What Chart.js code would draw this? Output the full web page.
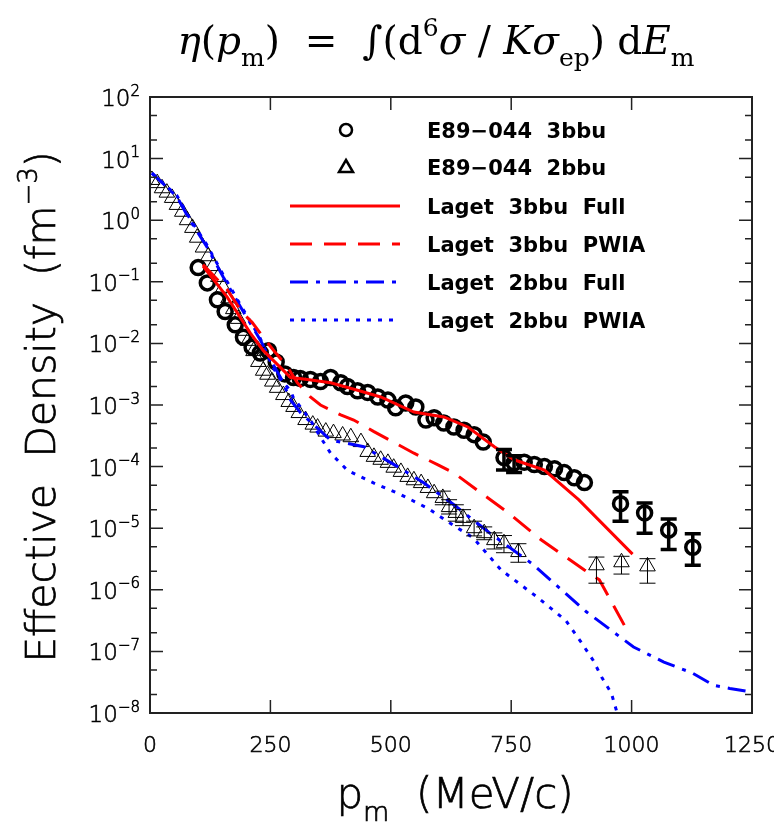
<!DOCTYPE html>
<html>
<head>
<meta charset="utf-8">
<script src="https://cdn.jsdelivr.net/npm/chart.js@4.4.0/dist/chart.umd.min.js"></script>
<style>
  html, body { margin: 0; padding: 0; background: #fff; }
  #wrap { width: 774px; height: 822px; position: relative; }
</style>
</head>
<body>
<div id="wrap"><canvas id="chart" width="774" height="822"></canvas></div>
<script>
// E89-044 data, 3bbu (circles) and 2bbu (triangles)
const circ_p = [100,119,140,156,177,194,212,229,246,262,280,298,312,333,354,375,396,410,431,452,473,494,510,531,552,573,590,610,631,652,673,692,735,756,777,798,819,840,860,881,902,977,1027,1077,1127];
const circ_v = [0.17,0.096,0.051,0.033,0.020,0.0126,0.0087,0.0070,0.0076,0.0050,0.0032,0.0028,0.0027,0.0026,0.0024,0.0028,0.0023,0.0020,0.0017,0.0016,0.00135,0.0012,0.0009,0.00108,0.00093,0.00057,0.00062,0.00051,0.00044,0.00039,0.00033,0.00025,0.00014,0.000115,0.000118,0.000108,0.0001,0.000092,0.00008,0.000066,0.000055,2.5e-5,1.77e-5,9.3e-6,4.9e-6];
const circ_err_p  = [735,756,977,1027,1077,1127];
const circ_err_lo = [8.8e-5,8.0e-5,1.3e-5,8.3e-6,4.5e-6,2.5e-6];
const circ_err_hi = [1.9e-4,1.5e-4,3.9e-5,2.57e-5,1.41e-5,8.1e-6];

const tri_p = [4,15,25,35,46,56,67,77,88,98,110,121,131,142,152,163,173,183,194,204,215,225,235,244,254,264,277,288,298,309,323,338,348,365,381,400,417,438,452,465,479,494,506,521,535,548,563,577,590,608,621,635,650,673,694,715,735,765,927,979,1033];
const tri_v = [4.5,4.0,3.3,2.8,2.3,1.77,1.37,1.0,0.75,0.52,0.36,0.26,0.18,0.12,0.08,0.054,0.036,0.025,0.016,0.011,0.0075,0.005,0.0036,0.0031,0.0024,0.0019,0.00145,0.00112,0.00093,0.00074,0.00057,0.00048,0.00043,0.00037,0.00035,0.00032,0.0003,0.00025,0.000173,0.000144,0.000129,0.000115,0.000096,0.000082,0.000068,0.00006,0.000054,0.000045,0.000037,0.000031,0.000022,0.0000177,0.0000147,0.00001,8.3e-6,6.4e-6,5.7e-6,4.1e-6,2.5e-6,2.8e-6,2.4e-6];
const tri_err_p  = [608,621,635,650,673,694,715,735,765,927,979,1033];
const tri_err_lo = [2.4e-5,1.7e-5,1.3e-5,1.1e-5,7.5e-6,6.5e-6,4.6e-6,4.0e-6,2.8e-6,1.28e-6,1.8e-6,1.28e-6];
const tri_err_hi = [4.0e-5,2.9e-5,2.4e-5,2.0e-5,1.3e-5,1.05e-5,8.4e-6,7.6e-6,5.6e-6,3.4e-6,3.5e-6,3.2e-6];

// Laget calculations
const laget3_full_p = [110,160,208,235,292,327,375,431,479,548,610,660,715,756,819,890,1002];
const laget3_full_v = [0.18,0.057,0.0148,0.0077,0.0028,0.0026,0.0023,0.00174,0.00135,0.00077,0.00064,0.00044,0.00021,0.000129,0.000088,0.000029,3.8e-6];
const laget3_pwia_p = [110,160,191,212,235,256,285,306,333,354,396,423,465,548,598,631,688,744,812,902,933,988];
const laget3_pwia_v = [0.19,0.075,0.032,0.022,0.0126,0.0078,0.0042,0.0023,0.00135,0.001,0.00069,0.00057,0.00037,0.000165,0.000107,0.000079,0.000037,0.0000177,6.5e-6,2.1e-6,1.45e-6,2.4e-7];
const laget2_full_p = [4,56,83,118,152,188,229,256,271,292,313,375,444,514,569,631,705,792,906,1004,1067,1125,1171,1204,1250];
const laget2_full_v = [5.8,2.4,1.0,0.37,0.12,0.039,0.0114,0.0045,0.0028,0.0012,0.00074,0.00027,0.00021,0.0001,0.000054,0.000024,8.4e-6,2.7e-6,4.4e-7,1.18e-7,6.7e-8,4.5e-8,2.8e-8,2.5e-8,2.2e-8];
const laget2_pwia_p = [4,56,83,118,152,188,229,256,271,292,298,333,354,375,410,465,521,577,631,671,729,804,863,896,920,938,958,970];
const laget2_pwia_v = [5.8,2.5,1.05,0.4,0.13,0.042,0.012,0.004,0.0026,0.0017,0.0013,0.00057,0.0003,0.000165,0.000087,0.000054,0.000035,0.000021,0.000011,7e-6,2.1e-6,7.6e-7,3.2e-7,1.38e-7,7.2e-8,3.8e-8,2.1e-8,1e-8];

// axis ticks
const x_ticks = [0,250,500,750,1000,1250];
const y_exps = [2,1,0,-1,-2,-3,-4,-5,-6,-7,-8];

const pts = (xs, ys) => xs.map((x, i) => ({x: x, y: ys[i]}));

const SANS = '"DejaVu Sans", sans-serif';
const SERIF = '"DejaVu Serif", serif';

// text with sub/superscripts, parts = [{t, it, s:'sub'|'sup'}]
function drawRich(ctx, parts, x, y, align, size, family, weight, outline) {
  const fontOf = p => (p.it ? 'italic ' : '') + (weight || 'normal') + ' ' + (p.s ? Math.round(size * 0.64) : size) + 'px ' + family;
  let w = 0;
  parts.forEach(p => { ctx.font = fontOf(p); p.w = ctx.measureText(p.t).width; w += p.w; });
  let cx = align === 'center' ? x - w / 2 : align === 'right' ? x - w : x;
  ctx.textAlign = 'left';
  ctx.textBaseline = 'alphabetic';
  ctx.strokeStyle = '#000';
  ctx.lineWidth = outline || 0;
  parts.forEach(p => {
    ctx.font = fontOf(p);
    const dy = p.s === 'sub' ? size * 0.3 : p.s === 'sup' ? -size * 0.45 : 0;
    ctx.fillText(p.t, cx, y + dy);
    if (outline) ctx.strokeText(p.t, cx, y + dy);
    cx += p.w;
  });
}

function errorBars(ctx, xs, ys, ps, los, his, width, cap) {
  ctx.save();
  ctx.strokeStyle = '#000';
  ctx.lineWidth = width;
  ps.forEach((p, i) => {
    const x = xs.getPixelForValue(p);
    const y1 = ys.getPixelForValue(los[i]);
    const y2 = ys.getPixelForValue(his[i]);
    ctx.beginPath();
    ctx.moveTo(x, y1); ctx.lineTo(x, y2);
    ctx.moveTo(x - cap, y1); ctx.lineTo(x + cap, y1);
    ctx.moveTo(x - cap, y2); ctx.lineTo(x + cap, y2);
    ctx.stroke();
  });
  ctx.restore();
}

const decor = {
  id: 'decor',
  afterDatasetsDraw(chart) {
    const ctx = chart.ctx, xs = chart.scales.x, ys = chart.scales.y;
    errorBars(ctx, xs, ys, circ_err_p, circ_err_lo, circ_err_hi, 3.5, 8);
    errorBars(ctx, xs, ys, tri_err_p, tri_err_lo, tri_err_hi, 1, 8);
  },
  afterDraw(chart) {
    const ctx = chart.ctx, a = chart.chartArea, xs = chart.scales.x, ys = chart.scales.y;
    ctx.save();
    ctx.fillStyle = '#000';
    ctx.strokeStyle = '#222';

    // frame and inside ticks
    ctx.lineWidth = 2;
    ctx.strokeRect(a.left, a.top, a.right - a.left, a.bottom - a.top);
    ctx.lineWidth = 1.5;
    ctx.beginPath();
    x_ticks.forEach(v => {
      const x = xs.getPixelForValue(v);
      ctx.moveTo(x, a.bottom); ctx.lineTo(x, a.bottom - 13);
      ctx.moveTo(x, a.top); ctx.lineTo(x, a.top + 13);
    });
    y_exps.forEach(e => {
      [1, 2, 5].forEach(m => {
        const v = m * Math.pow(10, e);
        if (v > 100 || v < 1e-8) return;
        const y = ys.getPixelForValue(v);
        const len = m === 1 ? 13 : 7;
        ctx.moveTo(a.left, y); ctx.lineTo(a.left + len, y);
        ctx.moveTo(a.right, y); ctx.lineTo(a.right - len, y);
      });
    });
    ctx.stroke();

    // tick labels
    x_ticks.forEach(v => drawRich(ctx, [{t: String(v)}], xs.getPixelForValue(v), a.bottom + 39, 'center', 22, SANS, '200', 0.6));
    y_exps.forEach(e => {
      const y = ys.getPixelForValue(Math.pow(10, e));
      const ex = e < 0 ? '\u2212' + (-e) : String(e);
      drawRich(ctx, [{t: '10'}, {t: ex, s: 'sup'}], 140, y + 9, 'right', 23, SANS, '200', 0.6);
    });

    // axis titles
    drawRich(ctx, [{t: 'p'}, {t: 'm', s: 'sub'}, {t: '  (MeV/c)'}], 455, 808, 'center', 42, SANS, '200', 0.7);
    ctx.save();
    ctx.translate(55, 407);
    ctx.rotate(-Math.PI / 2);
    drawRich(ctx, [{t: 'Effective  Density  (fm'}, {t: '\u22123', s: 'sup'}, {t: ')'}], 0, 0, 'center', 41, SANS, '200', 0.7);
    ctx.restore();

    // title
    drawRich(ctx, [
      {t: '\u03b7', it: true}, {t: '('}, {t: 'p', it: true}, {t: 'm', s: 'sub'}, {t: ')  =  \u222b(d'},
      {t: '6', s: 'sup'}, {t: '\u03c3', it: true}, {t: ' / '}, {t: 'K\u03c3', it: true}, {t: 'ep', s: 'sub'},
      {t: ') d'}, {t: 'E', it: true}, {t: 'm', s: 'sub'}
    ], 436, 54, 'center', 39, SERIF, 'normal');

    // legend
    const rows = [130, 167, 206, 244, 282, 320];
    chart.data.datasets.forEach((ds, i) => {
      const y = rows[i];
      ctx.save();
      if (ds.showLine) {
        ctx.strokeStyle = ds.borderColor;
        ctx.lineWidth = ds.borderWidth;
        ctx.setLineDash(ds.borderDash || []);
        ctx.beginPath();
        ctx.moveTo(290, y); ctx.lineTo(400, y);
        ctx.stroke();
      } else {
        ctx.strokeStyle = '#000';
        ctx.lineWidth = 2.5;
        ctx.beginPath();
        if (ds.pointStyle === 'circle') {
          ctx.arc(346, y, 6, 0, Math.PI * 2);
        } else {
          ctx.moveTo(346, y - 7); ctx.lineTo(353, y + 5); ctx.lineTo(339, y + 5); ctx.closePath();
        }
        ctx.stroke();
      }
      ctx.restore();
      ctx.font = 'bold 21px ' + SANS;
      ctx.textAlign = 'left';
      ctx.textBaseline = 'alphabetic';
      ctx.fillText(ds.label, 427, y + 8);
    });
    ctx.restore();
  }
};

new Chart(document.getElementById('chart'), {
  type: 'scatter',
  data: {
    datasets: [
      { label: 'E89\u2212044  3bbu', data: pts(circ_p, circ_v), pointStyle: 'circle', pointRadius: 7,
        borderWidth: 3.5, borderColor: '#000', backgroundColor: 'rgba(0,0,0,0)', showLine: false, order: 2 },
      { label: 'E89\u2212044  2bbu', data: pts(tri_p, tri_v), pointStyle: 'triangle', pointRadius: 9,
        borderWidth: 1, borderColor: '#000', backgroundColor: 'rgba(0,0,0,0)', showLine: false, order: 2 },
      { label: 'Laget  3bbu  Full', data: pts(laget3_full_p, laget3_full_v), showLine: true, pointRadius: 0,
        borderColor: '#ff0000', borderWidth: 3, order: 1 },
      { label: 'Laget  3bbu  PWIA', data: pts(laget3_pwia_p, laget3_pwia_v), showLine: true, pointRadius: 0,
        borderColor: '#ff0000', borderWidth: 3, borderDash: [22, 12], order: 1 },
      { label: 'Laget  2bbu  Full', data: pts(laget2_full_p, laget2_full_v), showLine: true, pointRadius: 0,
        borderColor: '#0000ff', borderWidth: 3, borderDash: [18, 8, 4, 8], order: 1 },
      { label: 'Laget  2bbu  PWIA', data: pts(laget2_pwia_p, laget2_pwia_v), showLine: true, pointRadius: 0,
        borderColor: '#0000ff', borderWidth: 3, borderDash: [4, 7], order: 1 }
    ]
  },
  options: {
    responsive: false,
    devicePixelRatio: 1,
    animation: false,
    layout: { padding: { left: 150, top: 97, right: 22, bottom: 109 } },
    plugins: { legend: { display: false }, tooltip: { enabled: false } },
    scales: {
      x: { type: 'linear', min: 0, max: 1250, display: false },
      y: { type: 'logarithmic', min: 1e-8, max: 100, display: false }
    }
  },
  plugins: [decor]
});
</script>
</body>
</html>
